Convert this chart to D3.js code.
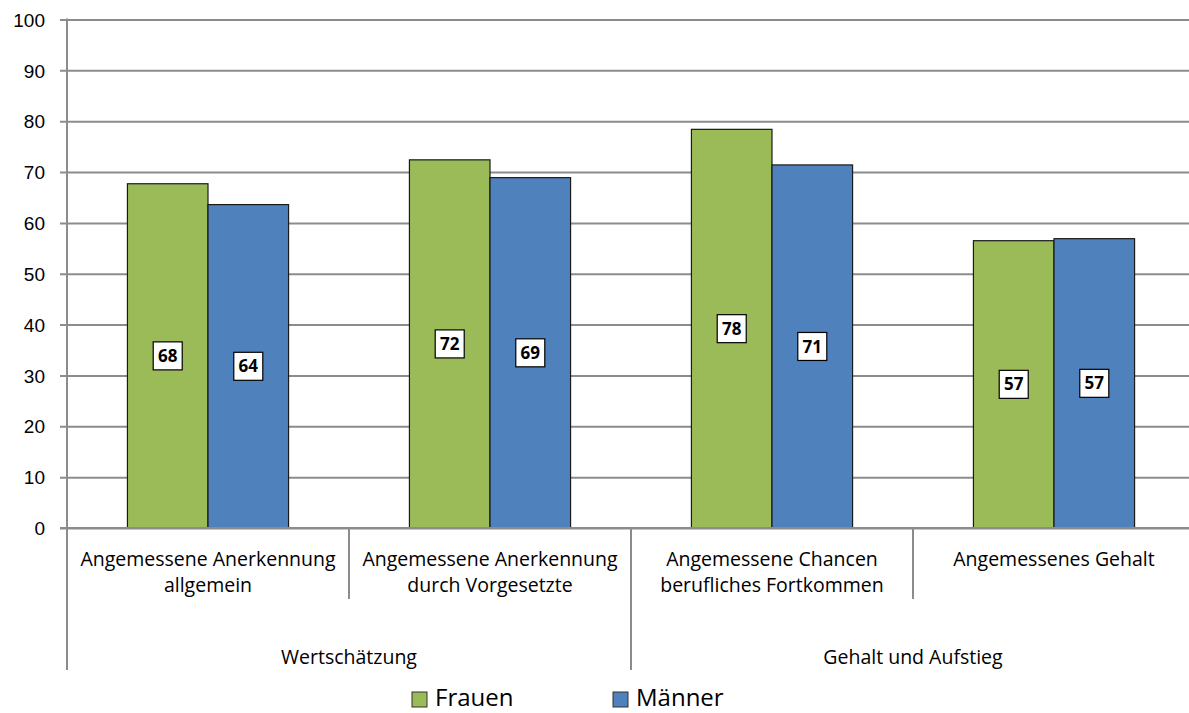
<!DOCTYPE html>
<html>
<head>
<meta charset="utf-8">
<script src="https://cdn.jsdelivr.net/npm/d3@7"></script>
<style>
  html, body { margin: 0; padding: 0; background: #fff; }
  svg { display: block; font-family: "Open Sans", sans-serif; }
</style>
</head>
<body>
<svg id="chart" width="1189" height="713"></svg>
<script>
const categories = ["c1", "c2", "c3", "c4"];
const categoryLines = [
  ["Angemessene Anerkennung", "allgemein"],
  ["Angemessene Anerkennung", "durch Vorgesetzte"],
  ["Angemessene Chancen", "berufliches Fortkommen"],
  ["Angemessenes Gehalt"]
];
const groups = ["Wertschätzung", "Gehalt und Aufstieg"];
const groupCategories = [["c1", "c2"], ["c3", "c4"]];
const seriesNames = ["Frauen", "Männer"];
const frauen = [67.7, 72.4, 78.4, 56.5];
const maenner = [63.6, 68.9, 71.4, 56.9];
const yTicks = [0, 10, 20, 30, 40, 50, 60, 70, 80, 90, 100];
const colors = ["#9BBB59", "#4F81BD"];

(function () {
const svg = d3.select("#chart");
const mLeft = 67, mRight = 1195, mTop = 19.5, mBottom = 528;

const y = d3.scaleLinear().domain([0, 100]).range([mBottom, mTop]);
const x0 = d3.scaleBand().domain(categories).range([mLeft, mRight]).paddingInner(0).paddingOuter(0);
const x1 = d3.scaleBand().domain(seriesNames).range([0, x0.bandwidth()]).paddingInner(0).paddingOuter(0.75);

const gridColor = "#8c8c8c";
const labelSize = 19.5;

// Gridlines + y labels
const yAxis = d3.axisLeft(y).tickValues(yTicks).tickSize(-(mRight - mLeft + 7)).tickPadding(14).tickFormat(d3.format("d"));
const gy = svg.append("g").attr("transform", `translate(${mLeft - 7},0)`).call(yAxis);
gy.select(".domain").remove();
gy.selectAll(".tick line").attr("stroke", gridColor).attr("stroke-width", 2);
gy.selectAll(".tick text").attr("font-size", 19).attr("fill", "#000").attr("dy", "0.35em").attr("x", -15);

// y axis line (extends down to group labels)
svg.append("line").attr("x1", mLeft).attr("x2", mLeft).attr("y1", mTop - 1).attr("y2", 670)
  .attr("stroke", gridColor).attr("stroke-width", 2);

// Bars
const data = categories.map((c, i) => ({ cat: c, vals: [frauen[i], maenner[i]] }));
const groupsSel = svg.append("g").selectAll("g").data(data).join("g")
  .attr("transform", d => `translate(${x0(d.cat)},0)`);
groupsSel.selectAll("rect").data(d => d.vals.map((v, j) => ({ s: seriesNames[j], v, j }))).join("rect")
  .attr("x", d => x1(d.s))
  .attr("y", d => y(d.v))
  .attr("width", x1.bandwidth())
  .attr("height", d => y(0) - y(d.v))
  .attr("fill", d => colors[d.j])
  .attr("stroke", "#1a1a1a")
  .attr("stroke-width", 1.2);

// Value labels
const lab = groupsSel.selectAll("g.lab").data(d => d.vals.map((v, j) => ({ s: seriesNames[j], v, j }))).join("g")
  .attr("class", "lab")
  .attr("transform", d => `translate(${x1(d.s) + x1.bandwidth() / 2},${(y(d.v) + y(0)) / 2})`);
lab.append("rect").attr("x", -14.5).attr("y", -14).attr("width", 29).attr("height", 28)
  .attr("fill", "#fff").attr("stroke", "#000").attr("stroke-width", 1.2);
lab.append("text").attr("text-anchor", "middle").attr("dy", "0.36em")
  .attr("font-size", 17).attr("font-weight", "bold").attr("fill", "#000")
  .text(d => Math.round(d.v));

// Baseline
svg.append("line").attr("x1", mLeft - 7).attr("x2", mRight).attr("y1", y(0)).attr("y2", y(0))
  .attr("stroke", gridColor).attr("stroke-width", 2);

// Category dividers
categories.forEach((c, i) => {
  if (i === 0) return;
  const isGroupBoundary = groupCategories.some(g => g[0] === c);
  svg.append("line").attr("x1", x0(c)).attr("x2", x0(c))
    .attr("y1", y(0)).attr("y2", isGroupBoundary ? 670 : 599)
    .attr("stroke", gridColor).attr("stroke-width", 2);
});
svg.append("line").attr("x1", mRight).attr("x2", mRight).attr("y1", y(0)).attr("y2", 670)
  .attr("stroke", gridColor).attr("stroke-width", 2);

// Category labels
categories.forEach((c, i) => {
  const t = svg.append("text").attr("text-anchor", "middle").attr("font-size", labelSize).attr("fill", "#000");
  categoryLines[i].forEach((ln, k) => {
    t.append("tspan").attr("x", x0(c) + x0.bandwidth() / 2).attr("y", 566 + k * 26).text(ln);
  });
});

// Group labels
groups.forEach((g, i) => {
  const cats = groupCategories[i];
  const gx = (x0(cats[0]) + x0(cats[cats.length - 1]) + x0.bandwidth()) / 2;
  svg.append("text").attr("x", gx).attr("y", 664).attr("text-anchor", "middle")
    .attr("font-size", labelSize).attr("fill", "#000").text(g);
});

// Legend
const legendX = [412, 613];
seriesNames.forEach((s, i) => {
  svg.append("rect").attr("x", legendX[i]).attr("y", 692).attr("width", 15).attr("height", 15)
    .attr("fill", colors[i]).attr("stroke", "#333").attr("stroke-width", 1);
  svg.append("text").attr("x", legendX[i] + 23).attr("y", 706).attr("font-size", 24).attr("fill", "#000").text(s);
});
})();
</script>
</body>
</html>
